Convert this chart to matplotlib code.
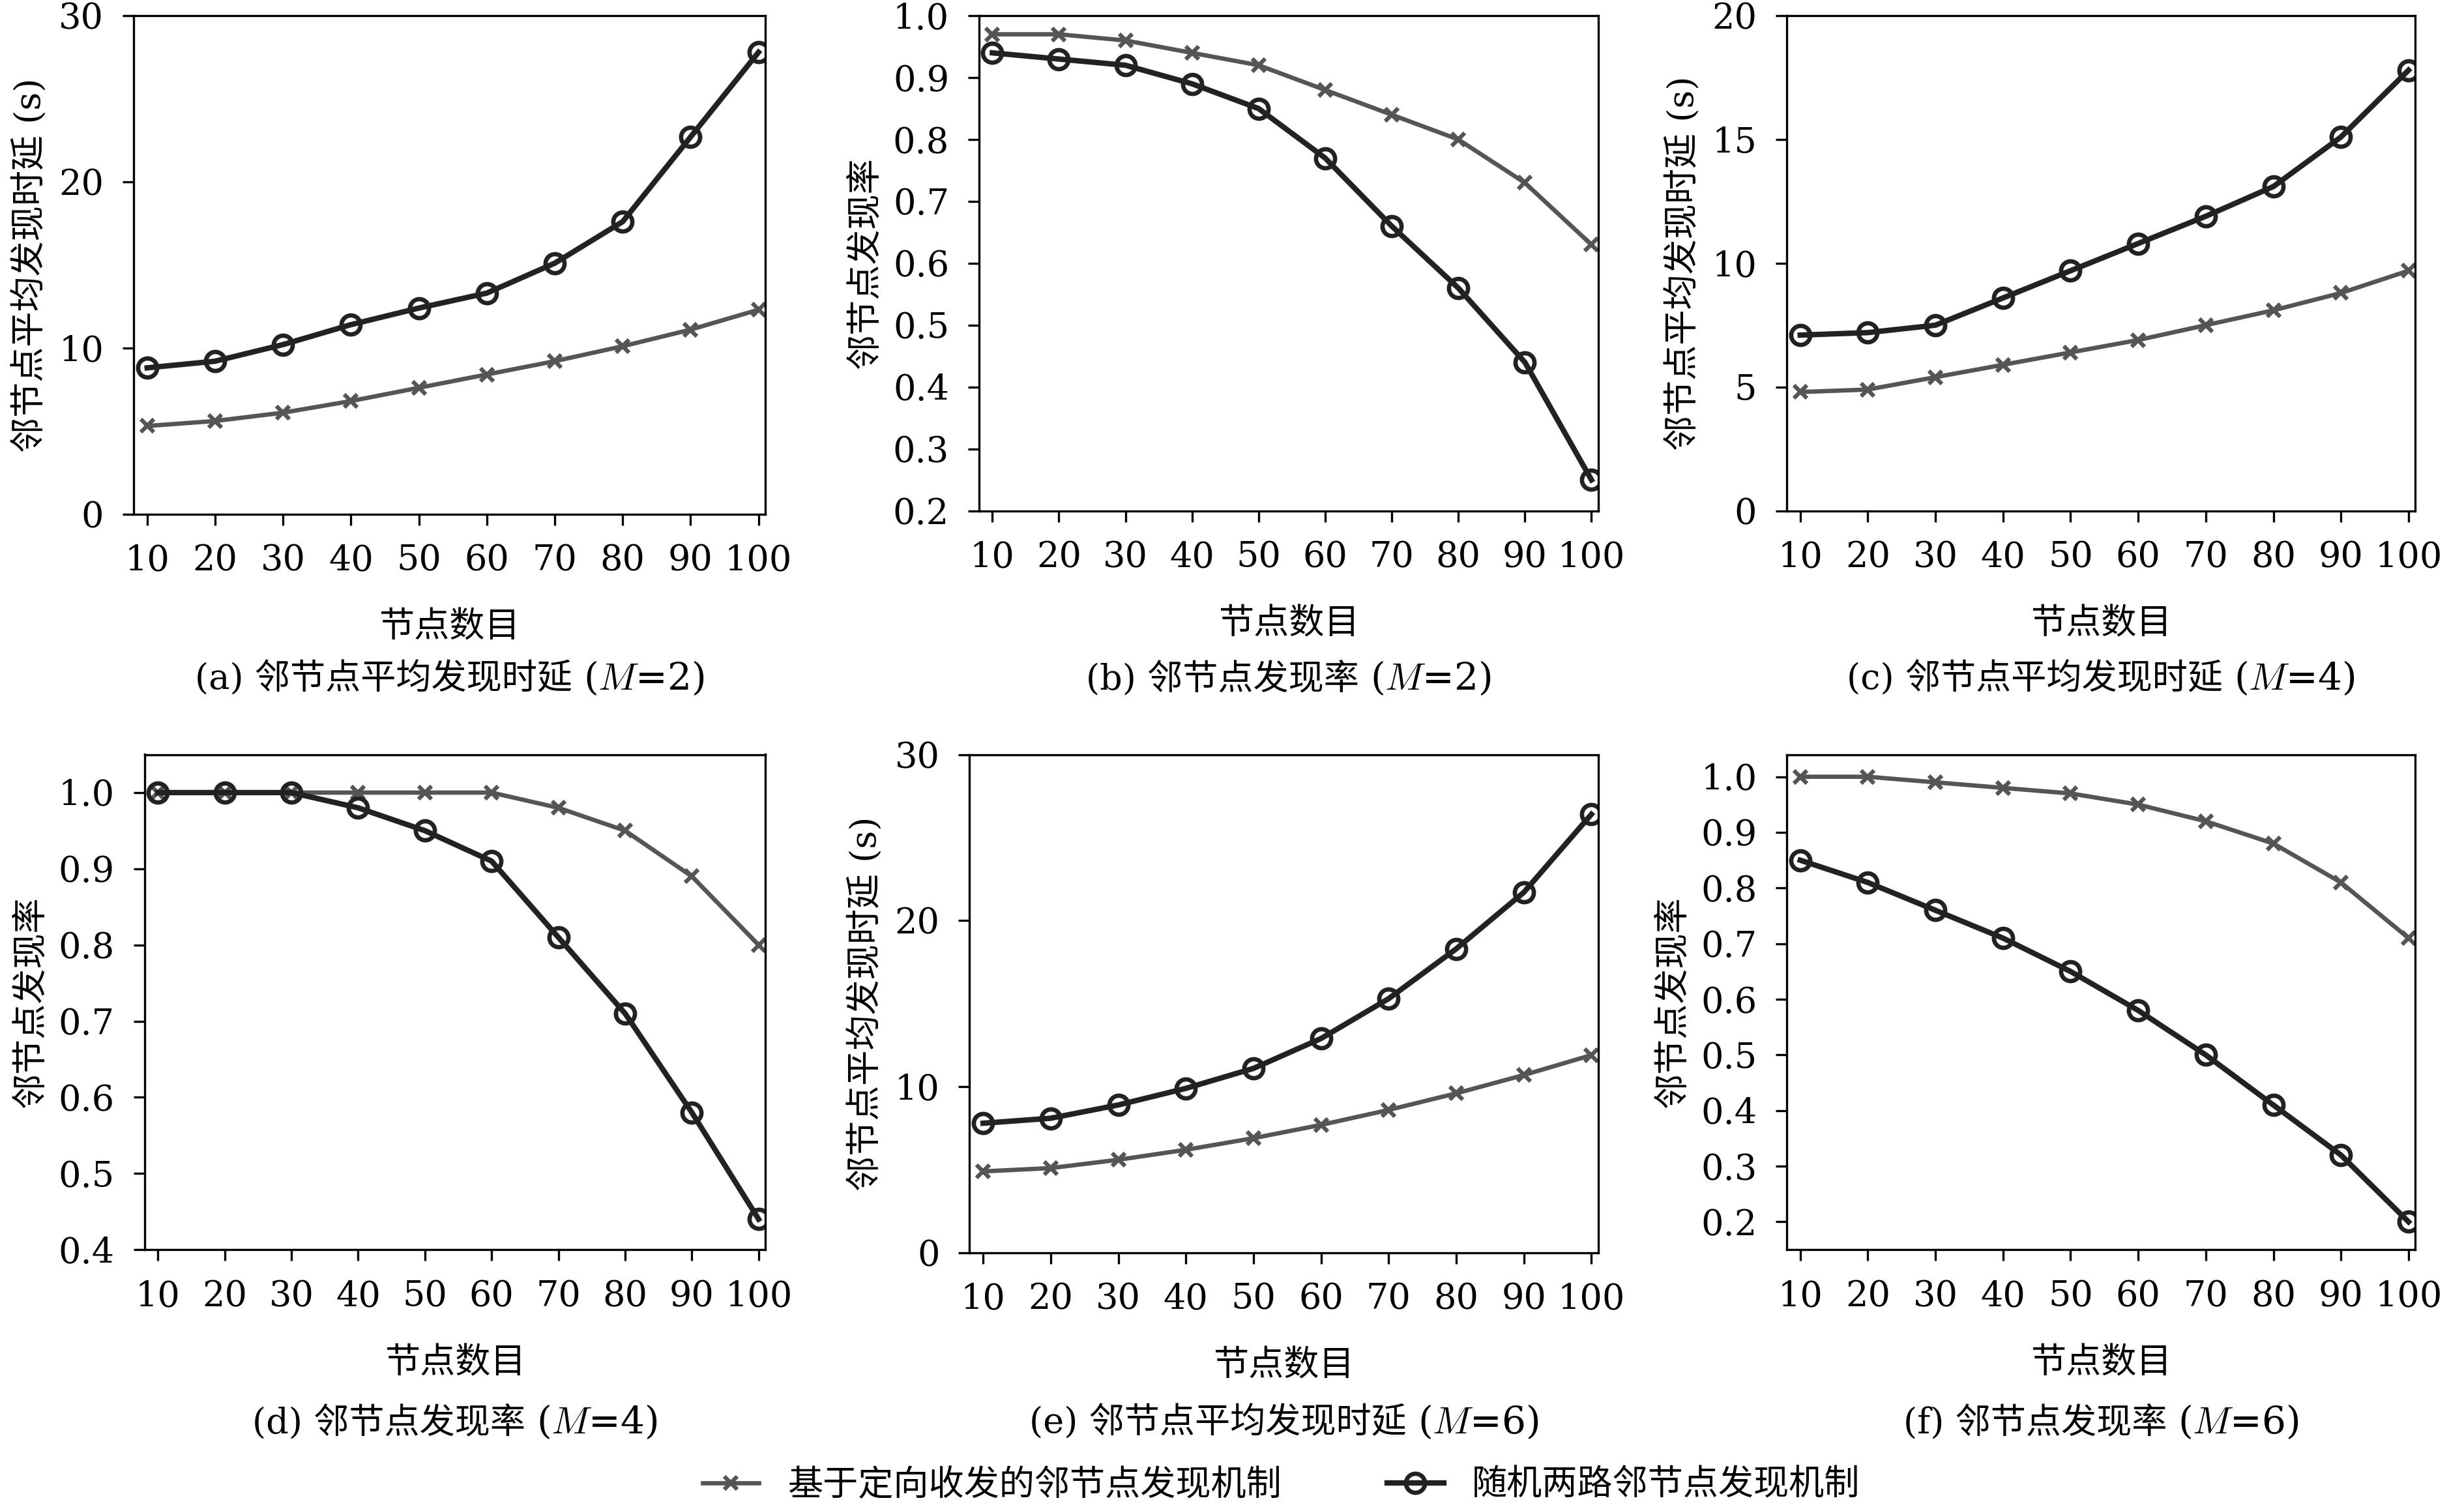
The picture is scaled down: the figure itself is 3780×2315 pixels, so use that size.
import matplotlib
matplotlib.use("Agg")
import matplotlib.pyplot as plt

plt.rcParams['font.family'] = ['DejaVu Serif', 'Noto Sans CJK SC']
plt.rcParams['mathtext.fontset'] = 'cm'

x = [10, 20, 30, 40, 50, 60, 70, 80, 90, 100]
a_cross = [5.3, 5.6, 6.1, 6.8, 7.6, 8.4, 9.2, 10.1, 11.1, 12.3]
a_circ = [8.8, 9.2, 10.2, 11.4, 12.4, 13.3, 15.1, 17.6, 22.7, 27.8]
b_cross = [.97, .97, .96, .94, .92, .88, .84, .80, .73, .63]
b_circ = [.94, .93, .92, .89, .85, .77, .66, .56, .44, .25]
c_cross = [4.8, 4.9, 5.4, 5.9, 6.4, 6.9, 7.5, 8.1, 8.8, 9.7]
c_circ = [7.1, 7.2, 7.5, 8.6, 9.7, 10.8, 11.9, 13.1, 15.1, 17.8]
d_cross = [1, 1, 1, 1, 1, 1, .98, .95, .89, .80]
d_circ = [1, 1, 1, .98, .95, .91, .81, .71, .58, .44]
e_cross = [4.9, 5.1, 5.6, 6.2, 6.9, 7.7, 8.6, 9.6, 10.7, 11.9]
e_circ = [7.8, 8.1, 8.9, 9.9, 11.1, 12.9, 15.3, 18.3, 21.7, 26.4]
f_cross = [1, 1, .99, .98, .97, .95, .92, .88, .81, .71]
f_circ = [.85, .81, .76, .71, .65, .58, .50, .41, .32, .20]

W, H = 1568, 960
fig = plt.figure(figsize=(12.6, 2315 / 300), dpi=300)

def rect(l, r, t, b):
    return [l / W, 1 - b / H, (r - l) / W, (b - t) / H]

delay = '邻节点平均发现时延 (s)'
rate = '邻节点发现率'
panels = [
    (rect(85, 487, 10, 327), a_cross, a_circ, (0, 30), [0, 10, 20, 30], delay, '(a) 邻节点平均发现时延', '2', 432),
    (rect(623, 1017, 10, 325), b_cross, b_circ, (0.2, 1.0), [0.2,0.3,0.4,0.5,0.6,0.7,0.8,0.9,1.0], rate, '(b) 邻节点发现率', '2', 432),
    (rect(1137, 1537, 10, 325), c_cross, c_circ, (0, 20), [0, 5, 10, 15, 20], delay, '(c) 邻节点平均发现时延', '4', 432),
    (rect(92, 487, 480, 795), d_cross, d_circ, (0.4, 1.05), [0.4,0.5,0.6,0.7,0.8,0.9,1.0], rate, '(d) 邻节点发现率', '4', 905),
    (rect(617, 1017, 480, 797), e_cross, e_circ, (0, 30), [0, 10, 20, 30], delay, '(e) 邻节点平均发现时延', '6', 905),
    (rect(1137, 1537, 480, 795), f_cross, f_circ, (0.15, 1.04), [0.2,0.3,0.4,0.5,0.6,0.7,0.8,0.9,1.0], rate, '(f) 邻节点发现率', '6', 905),
]

fig.canvas.draw()
renderer = fig.canvas.get_renderer()
for pos, yc, yo, ylim, yt, ylab, title, m, ty in panels:
    ax = fig.add_axes(pos)
    l1, = ax.plot(x, yc, color='#555555', lw=1.6, marker='x', ms=5, mew=1.5,
                  label='基于定向收发的邻节点发现机制')
    l2, = ax.plot(x, yo, color='#222222', lw=2.0, marker='o', ms=7, mfc='none', mew=1.6,
                  label='随机两路邻节点发现机制')
    ax.set_xlim(8, 101)
    ax.set_ylim(*ylim)
    ax.set_xticks(x)
    ax.set_yticks(yt)
    if ylim[1] <= 1.05:
        ax.set_yticklabels([f'{v:.1f}' for v in yt])
    ax.tick_params(labelsize=13, length=4, pad=7)
    ax.set_ylabel(ylab, fontsize=13)
    ax.set_xlabel('节点数目', fontsize=13, labelpad=12)
    cx = pos[0] + pos[2] / 2
    fy = 1 - ty / H
    t1 = fig.text(0, fy, title + ' ', ha='left', va='center', fontsize=13)
    t2 = fig.text(0, fy, '($M$=' + m + ')', ha='left', va='center', fontsize=14)
    w1 = t1.get_window_extent(renderer).width / fig.bbox.width
    w2 = t2.get_window_extent(renderer).width / fig.bbox.width
    x0 = cx - (w1 + w2) / 2
    t1.set_x(x0)
    t2.set_x(x0 + w1)

fig.legend(handles=[l1, l2], loc='center', bbox_to_anchor=(0.52, 1 - 945 / H), ncol=2,
           frameon=False, fontsize=13, handlelength=1.6, columnspacing=3)
fig.savefig('out.png', dpi=300)
